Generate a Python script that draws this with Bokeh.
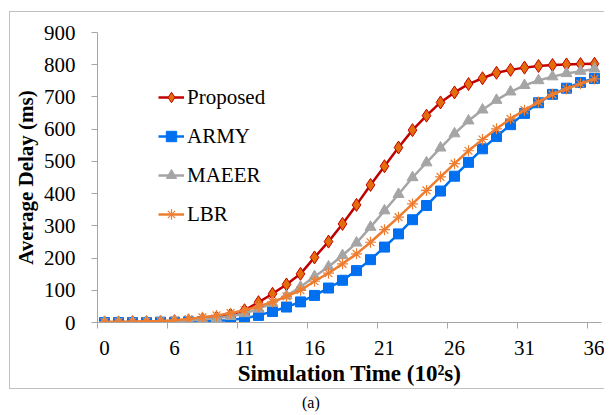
from bokeh.plotting import figure
from bokeh.models import Range1d, LinearAxis, FixedTicker, Legend, LegendItem, Div
from bokeh.layouts import column
from bokeh.embed import file_html
from bokeh.resources import INLINE

# ---- data ----
time_labels = ["0", "6", "11", "16", "21", "26", "31", "36"]
label_every = 5
proposed = [0, 0, 1, 1, 2, 4, 6, 10, 15, 24, 38, 63, 89, 118, 151, 202, 251, 306,
            365, 427, 485, 543, 597, 642, 683, 714, 740, 758, 775, 784, 791, 796,
            799, 801, 802, 803]
army = [0, 0, 0, 0, 1, 1, 2, 3, 5, 8, 13, 22, 34, 48, 64, 84, 107, 131, 161, 195,
        234, 275, 319, 363, 408, 454, 497, 539, 577, 614, 649, 682, 708, 727, 745, 757]
maeer = [1, 1, 1, 2, 3, 4, 6, 9, 13, 19, 28, 42, 60, 83, 110, 143, 173, 208, 247,
         296, 347, 398, 450, 496, 542, 586, 626, 660, 690, 716, 736, 751, 763, 773,
         780, 787]
lbr = [2, 2, 3, 4, 5, 7, 11, 16, 22, 29, 38, 50, 64, 81, 100, 128, 153, 182, 213,
       249, 288, 327, 368, 410, 452, 493, 533, 568, 601, 632, 659, 684, 708, 725,
       741, 756]
y_ticks = [0, 100, 200, 300, 400, 500, 600, 700, 800, 900]

n = len(proposed)
xs = list(range(n))

SERIF = "'Liberation Serif'"
AX = "#A6A6A6"

p = figure(width=595, height=378,
           x_range=Range1d(-0.5, n - 0.5), y_range=Range1d(0, 900),
           x_axis_type=None, y_axis_type=None,
           output_backend="svg", toolbar_location=None,
           min_border_left=86, min_border_top=20, min_border_right=4,
           min_border_bottom=68, margin=(11, 0, 0, 9))
p.outline_line_color = None
p.styles = {"border-left": "1px solid #BFBFBF", "border-top": "1px solid #BFBFBF",
            "border-bottom": "1px solid #BFBFBF"}

# y axis
ya = LinearAxis(ticker=FixedTicker(ticks=y_ticks))
ya.axis_line_color = AX
ya.major_tick_line_color = AX
ya.minor_tick_line_color = None
ya.major_tick_out = 6
ya.major_tick_in = 0
ya.major_label_text_font = SERIF
ya.major_label_text_font_size = "21px"
ya.major_label_text_color = "black"
ya.major_label_standoff = 16
ya.axis_label = "Average Delay (ms)"
ya.axis_label_text_font = SERIF
ya.axis_label_text_font_style = "bold"
ya.axis_label_text_font_size = "21px"
ya.axis_label_text_color = "black"
ya.axis_label_standoff = 3
p.add_layout(ya, "left")

# x axis: tick marks between categories
bounds = [i - 0.5 for i in range(0, n, label_every)]
xa = LinearAxis(ticker=FixedTicker(ticks=bounds))
xa.axis_line_color = AX
xa.major_tick_line_color = AX
xa.minor_tick_line_color = None
xa.major_tick_out = 6
xa.major_tick_in = 0
xa.major_label_text_font_size = "1px"
xa.major_label_text_alpha = 0
xa.major_label_standoff = 0
p.add_layout(xa, "below")

# x axis: labels at category centres
label_pos = list(range(0, n, label_every))
xl = LinearAxis(ticker=FixedTicker(ticks=label_pos))
xl.major_label_overrides = {k: v for k, v in zip(label_pos, time_labels)}
xl.axis_line_color = None
xl.major_tick_line_color = None
xl.minor_tick_line_color = None
xl.major_tick_out = 0
xl.major_tick_in = 0
xl.major_label_text_font = SERIF
xl.major_label_text_font_size = "21px"
xl.major_label_text_color = "black"
xl.major_label_standoff = 12
xl.axis_label = "Simulation Time (10²s)"
xl.axis_label_text_font = SERIF
xl.axis_label_text_font_style = "bold"
xl.axis_label_text_font_size = "23px"
xl.axis_label_text_color = "black"
xl.axis_label_standoff = 3
p.add_layout(xl, "below")

items = []
l1 = p.line(xs, proposed, line_color="#C00000", line_width=2.5)
s1 = p.scatter(xs, proposed, marker="diamond", size=13,
               fill_color="#E46C0A", line_color="#C00000", line_width=1)
items.append(LegendItem(label="Proposed", renderers=[l1, s1]))

l2 = p.line(xs, army, line_color="#0070F0", line_width=2.5)
s2 = p.scatter(xs, army, marker="square", size=10,
               fill_color="#0070F0", line_color="#0070F0")
items.append(LegendItem(label="ARMY", renderers=[l2, s2]))

l3 = p.line(xs, maeer, line_color="#A5A5A5", line_width=2.5)
s3 = p.scatter(xs, maeer, marker="triangle", size=11,
               fill_color="#A5A5A5", line_color="#A5A5A5")
items.append(LegendItem(label="MAEER", renderers=[l3, s3]))

l4 = p.line(xs, lbr, line_color="#ED7D31", line_width=2.5)
s4 = p.scatter(xs, lbr, marker="asterisk", size=11,
               line_color="#ED7D31", line_width=1.2)
items.append(LegendItem(label="LBR", renderers=[l4, s4]))

leg = Legend(items=items, location=(61, 95))
leg.border_line_color = None
leg.background_fill_alpha = 0
leg.padding = 0
leg.margin = 0
leg.label_text_font = SERIF
leg.label_text_font_size = "21px"
leg.label_text_color = "black"
leg.glyph_width = 26
leg.glyph_height = 26
leg.label_height = 24
leg.spacing = 13
leg.label_standoff = 3
p.add_layout(leg)

cap = Div(text="(a)", margin=(3, 0, 0, 302),
          styles={"font-family": "Liberation Serif", "font-size": "16px",
                  "color": "black"})

layout = column(p, cap)
open("out.html", "w").write(file_html(layout, INLINE))
